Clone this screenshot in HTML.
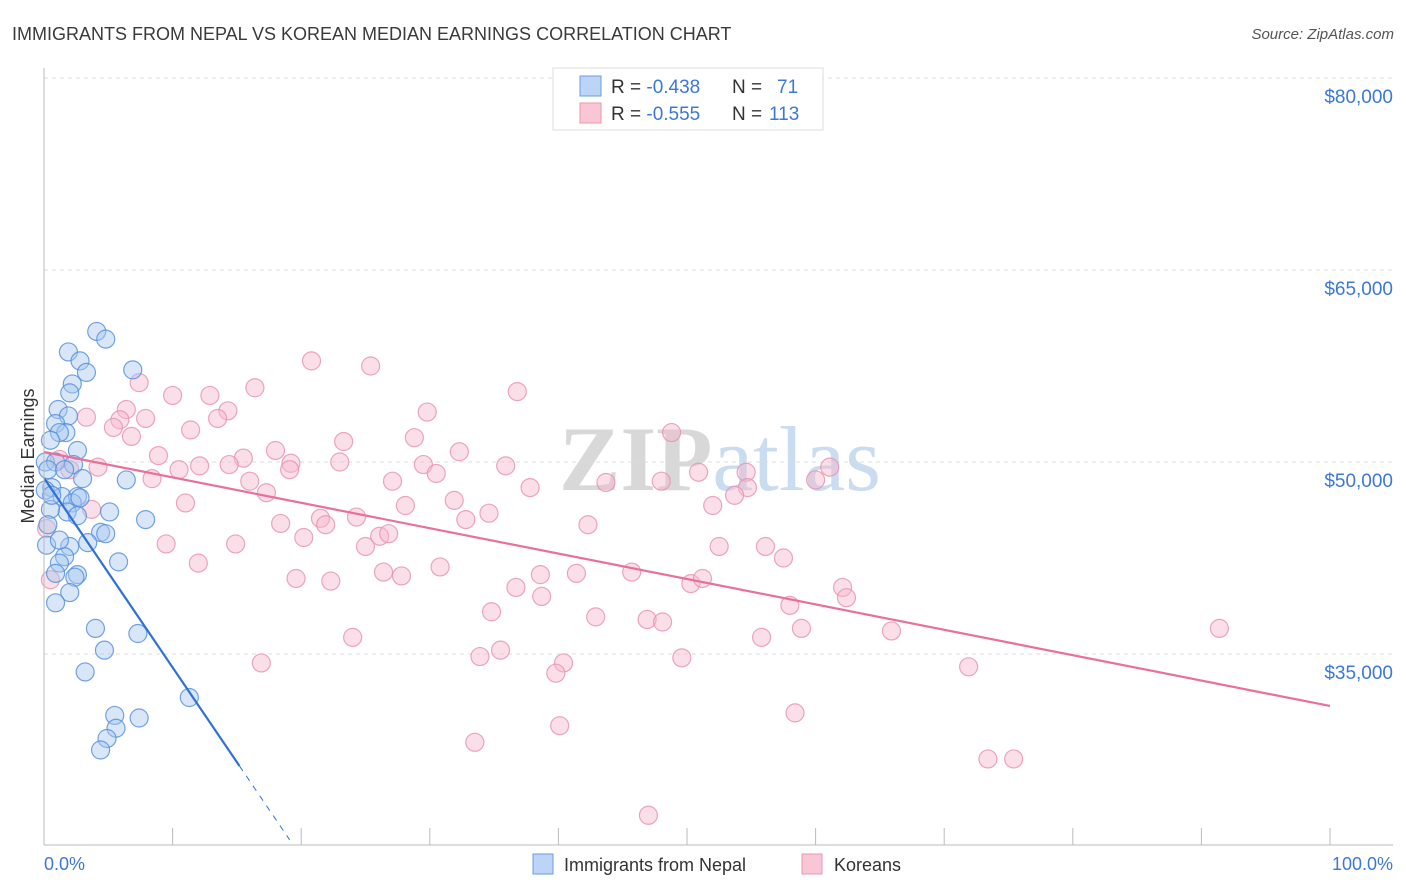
<!DOCTYPE html>
<html><head><meta charset="utf-8"><style>
body{margin:0;background:#fff;font-family:"Liberation Sans",sans-serif}
svg{display:block}
</style></head><body>
<svg id="chart" width="1406" height="892" xmlns="http://www.w3.org/2000/svg">
<text x="12" y="40" font-size="18" fill="#3a3a3a">IMMIGRANTS FROM NEPAL VS KOREAN MEDIAN EARNINGS CORRELATION CHART</text>
<text x="1394" y="39" font-size="15" font-style="italic" fill="#555" text-anchor="end">Source: ZipAtlas.com</text>
<text x="720" y="490" font-size="92" text-anchor="middle" font-family="Liberation Serif, serif"><tspan fill="#d8d8d8" font-weight="bold">ZIP</tspan><tspan fill="#c9dcf0">atlas</tspan></text>
<text transform="translate(34,456) rotate(-90)" font-size="18" fill="#333" text-anchor="middle">Median Earnings</text>
<g id="grid"></g><g id="marks"></g><g id="lines"></g>
<line x1="44" y1="68" x2="44" y2="845" stroke="#bbb"/>
<line x1="44" y1="845" x2="1393" y2="845" stroke="#bbb"/>
<g id="xticks"></g>
<text x="44" y="870" font-size="18" fill="#3c78d8">0.0%</text>
<text x="1393" y="870" font-size="18" fill="#3c78d8" text-anchor="end">100.0%</text>
<g>
<rect x="533" y="854" width="20" height="20" fill="#bcd4f5" stroke="#6a9de0"/>
<text x="564" y="871" font-size="18" fill="#333">Immigrants from Nepal</text>
<rect x="802" y="854" width="20" height="20" fill="#f9c6d6" stroke="#ea95b0"/>
<text x="834" y="871" font-size="18" fill="#333">Koreans</text>
</g>
<g>
<rect x="553" y="68" width="270" height="62" fill="#fff" stroke="#ddd"/>
<rect x="580" y="76" width="21" height="20" fill="#bcd4f5" stroke="#6a9de0"/>
<rect x="580" y="103" width="21" height="20" fill="#f9c6d6" stroke="#ea95b0"/>
<text x="611" y="93" font-size="19" fill="#333">R = <tspan fill="#3c78d8">-0.438</tspan><tspan x="732">N = </tspan><tspan x="777" fill="#3c78d8">71</tspan></text>
<text x="611" y="120" font-size="19" fill="#333">R = <tspan fill="#3c78d8">-0.555</tspan><tspan x="732">N = </tspan><tspan x="769" fill="#3c78d8">113</tspan></text>
</g>
</svg>
<script>
const yTicks=[35000,50000,65000,80000];
const yTickLabels=["$35,000","$50,000","$65,000","$80,000"];
const xTickPct=[0,10,20,30,40,50,60,70,80,90,100];
const nepalX=[4.1,4.8,1.9,2.8,6.9,3.3,2.2,2.0,1.1,1.9,0.9,1.7,1.2,0.5,2.6,0.1,0.9,0.3,2.3,3.0,6.4,0.6,0.1,1.4,2.6,2.2,1.8,5.1,2.6,7.9,4.4,4.8,3.4,2.0,1.6,1.2,5.8,2.6,2.4,2.0,0.9,4.0,7.3,4.7,3.2,11.3,5.5,5.6,7.4,4.9,4.4,0.5,0.3,0.2,0.9,1.2,1.6,0.6,2.8];
const nepalY=[60.2,59.6,58.6,57.9,57.2,57.0,56.1,55.4,54.1,53.6,53.0,52.3,52.3,51.7,50.9,50.0,50.0,49.4,49.8,48.7,48.6,48.0,47.8,47.3,47.3,46.8,46.1,46.1,45.8,45.5,44.5,44.4,43.7,43.4,42.6,42.1,42.2,41.2,41.0,39.8,39.0,37.0,36.6,35.3,33.6,31.6,30.2,29.2,30.0,28.4,27.5,46.3,45.1,43.5,41.3,43.9,49.4,47.4,47.2];
const korX=[20.8,25.4,7.4,36.8,16.4,10.0,12.9,6.4,14.3,3.3,7.9,29.8,13.5,5.9,5.4,11.4,48.8,23.3,28.8,6.8,18.0,32.3,15.5,8.9,12.1,14.4,19.2,23.0,19.1,29.5,4.2,10.5,35.9,30.5,54.6,50.9,61.1,60.0,54.7,8.4,27.1,37.8,16.0,43.7,48.0,17.3,11.0,28.1,31.9,53.7,52.0,21.5,24.3,34.6,21.9,32.8,18.4,20.2,42.3,9.5,14.9,25.0,26.1,26.8,52.5,56.1,57.5,12.0,30.8,45.7,38.6,41.4,19.6,22.3,26.4,27.8,50.3,51.2,36.7,38.7,62.1,62.4,34.8,58.0,42.9,46.9,48.1,58.9,65.9,91.4,24.0,55.8,35.5,33.9,49.6,40.4,39.8,16.9,71.9,58.4,40.1,33.5,73.4,75.4,47.0,0.2,0.5,1.2,2.0,3.7];
const korY=[57.9,57.5,56.2,55.5,55.8,55.2,55.2,54.1,54.0,53.5,53.4,53.9,53.4,53.3,52.7,52.5,52.3,51.6,51.9,52.0,50.9,50.8,50.3,50.5,49.7,49.8,49.9,50.0,49.4,49.8,49.6,49.4,49.7,49.1,49.2,49.2,49.6,48.6,48.0,48.7,48.5,48.0,48.5,48.4,48.5,47.6,46.8,46.6,47.0,47.4,46.6,45.6,45.7,46.0,45.1,45.5,45.2,44.1,45.1,43.6,43.6,43.4,44.2,44.4,43.4,43.4,42.5,42.1,41.8,41.4,41.2,41.3,40.9,40.7,41.4,41.1,40.5,40.9,40.2,39.5,40.2,39.4,38.3,38.8,37.9,37.7,37.5,37.0,36.8,37.0,36.3,36.3,35.3,34.8,34.7,34.3,33.5,34.3,34.0,30.4,29.4,28.1,26.8,26.8,22.4,44.8,40.8,50.2,49.4,46.3];
const nepalFit=[48.75,-1.48]; // intercept ($k), slope per %
const korFit=[50.78,-0.1984];
const NS="http://www.w3.org/2000/svg";
const xs=p=>44+p*12.86;
const ys=k=>78+(80-k)*12.8;
function mk(tag,attrs,parent){const e=document.createElementNS(NS,tag);for(const k in attrs)e.setAttribute(k,attrs[k]);document.getElementById(parent).appendChild(e);return e;}
yTicks.forEach((v,i)=>{
 const l=mk('line',{x1:44,x2:1393,y1:ys(v/1000),y2:ys(v/1000),stroke:'#ddd','stroke-dasharray':'4,4'},'grid');
 
 
 const t=mk('text',{x:1393,y:ys(v/1000)+25,'font-size':19,fill:'#3c78d8','text-anchor':'end'},'grid');
 t.textContent=yTickLabels[i];
 
 
});
xTickPct.forEach(p=>{
 const l=mk('line',{x1:xs(p),x2:xs(p),y1:828,y2:845,stroke:'#bbb'},'xticks');
 
 
});
function pts(X,Y,fill,stroke,name){
 X.forEach((x,i)=>{
  const c=mk('circle',{cx:xs(x),cy:ys(Y[i]),r:9,fill:fill,'fill-opacity':0.45,stroke:stroke,'stroke-opacity':0.8,'stroke-width':1.2},'marks');
  
  
 });
}
pts(korX,korY,'#f7b8cc','#e890ab','korean-point');
pts(nepalX,nepalY,'#a8c8f0','#4f8ddd','nepal-point');
function fitLine(f,x0,x1,color,dash,name){
 const l=mk('line',{x1:xs(x0),y1:ys(f[0]+f[1]*x0),x2:xs(x1),y2:ys(f[0]+f[1]*x1),stroke:color,'stroke-width':dash?1:2.2},'lines');
 if(dash)l.setAttribute('stroke-dasharray','6,6');
 
 
}
fitLine(korFit,0,100,'#e8709a',false,'korean-trendline');
fitLine(nepalFit,0,15.2,'#2f72d6',false,'nepal-trendline');
fitLine(nepalFit,15.2,19.1,'#2f72d6',true,'nepal-trendline-extension');
</script>
</body></html>
